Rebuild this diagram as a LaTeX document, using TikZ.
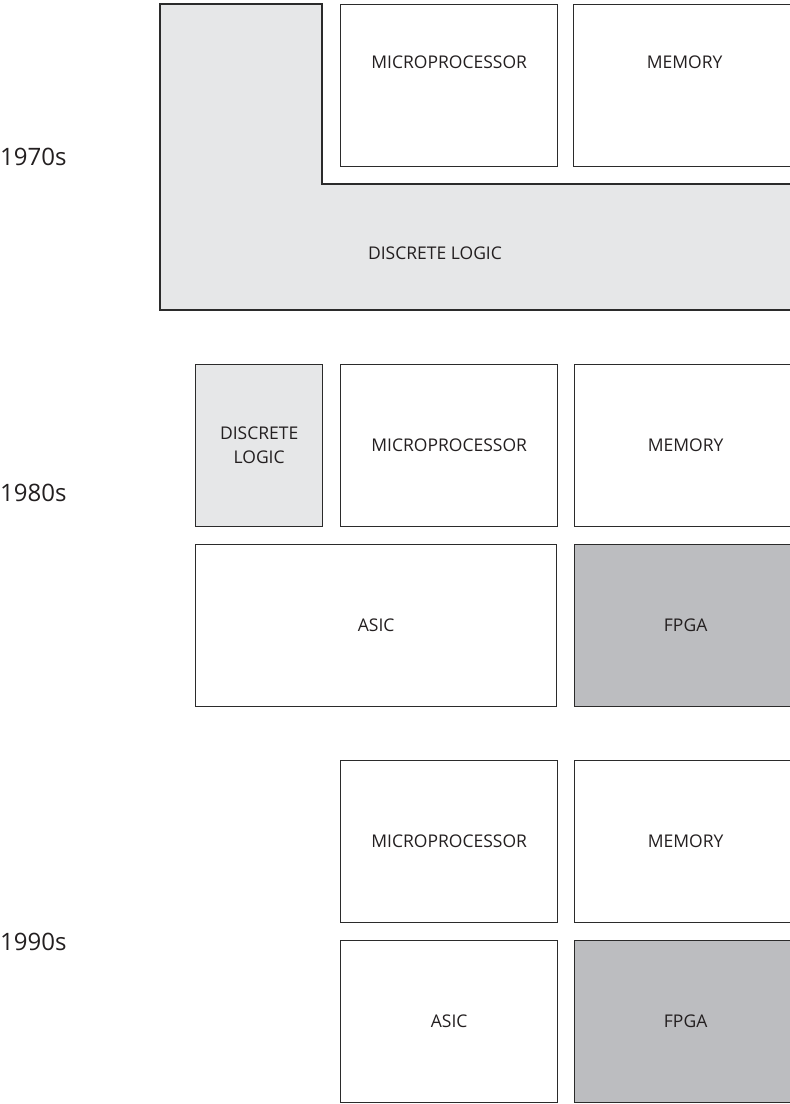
\documentclass[tikz,border=0pt]{standalone}
\usepackage{fontspec}
\setsansfont{Open Sans}
\definecolor{box edge}{HTML}{2B2B2B}
\definecolor{chip text}{HTML}{231F20}
\definecolor{logic area}{HTML}{E6E7E8}
\definecolor{fpga area}{HTML}{BCBDC0}
\def\discreteshape{(160,4) -- (322,4) -- (322,184) -- (795,184) -- (795,310) -- (160,310) -- cycle}
\tikzset{chip/.style={draw=box edge, line width=1.3pt, anchor=north west, inner sep=0pt,
      align=center, font=\sffamily\fontsize{17.5}{24}\selectfont, text=chip text},
      logic/.style={chip, fill=logic area},
      fpga/.style={chip, fill=fpga area},
      raised/.style={label={[anchor=center, yshift=-58pt, font=\sffamily\fontsize{17.5}{24}\selectfont, text=chip text]north:#1}},
      era/.style={anchor=west, inner sep=0pt, font=\sffamily\fontsize{24}{28}\selectfont, text=chip text}}

\begin{document}
\begin{tikzpicture}[x=1pt,y=-1pt]
\useasboundingbox (0,0) rectangle (790,1104);
\clip (0,0) rectangle (790,1104);
    % 1970s
    \draw[box edge, line width=1.3pt, fill=logic area] \discreteshape;
    \node[chip, fill=none, draw=none, anchor=center] (logic70) at (435,253) {DISCRETE LOGIC};
    \node[chip, minimum width=217, minimum height=162, raised=MICROPROCESSOR] (cpu70) at (340,4) {};
    \node[chip, minimum width=222, minimum height=162, raised=MEMORY] (mem70) at (573,4) {};
    \node[era] (y70) at (0,157) {1970s};
    % 1980s
    \node[logic, minimum width=127, minimum height=162] (logic80) at (195,364) {DISCRETE\\LOGIC};
    \node[chip, minimum width=217, minimum height=162] (cpu80) at (340,364) {MICROPROCESSOR};
    \node[chip, minimum width=222, minimum height=162] (mem80) at (574,364) {MEMORY};
    \node[chip, minimum width=361, minimum height=162] (asic80) at (195,544) {ASIC};
    \node[fpga, minimum width=222, minimum height=162] (fpga80) at (574,544) {FPGA};
    \node[era] (y80) at (0,493) {1980s};
    % 1990s
    \node[chip, minimum width=217, minimum height=162] (cpu90) at (340,760) {MICROPROCESSOR};
    \node[chip, minimum width=222, minimum height=162] (mem90) at (574,760) {MEMORY};
    \node[chip, minimum width=217, minimum height=162] (asic90) at (340,940) {ASIC};
    \node[fpga, minimum width=222, minimum height=162] (fpga90) at (574,940) {FPGA};
    \node[era] (y90) at (0,942) {1990s};
\end{tikzpicture}
\end{document}
